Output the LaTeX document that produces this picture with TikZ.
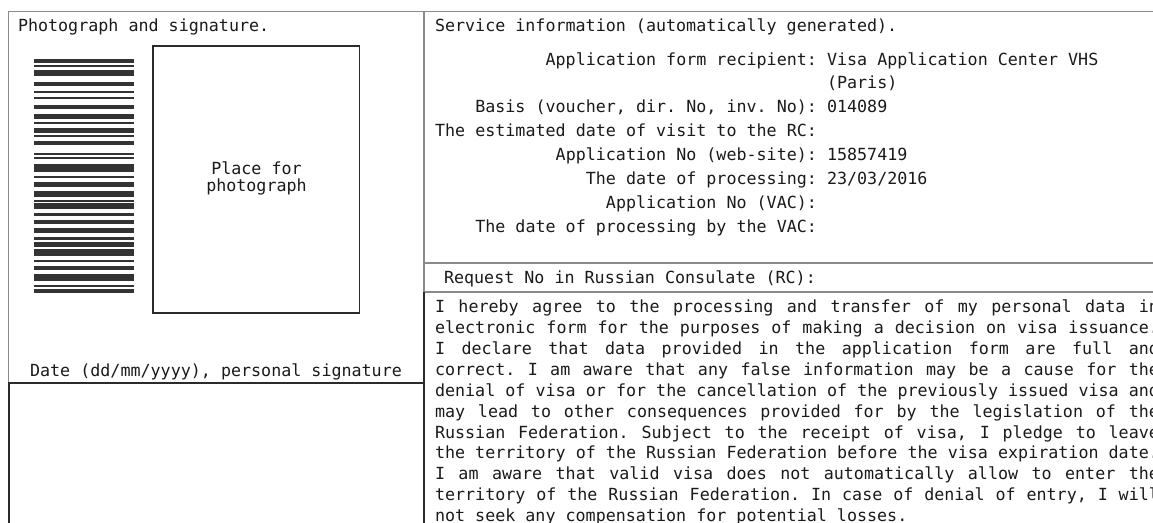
\documentclass[tikz,border=0pt]{standalone}
\usepackage{fontspec}
\newfontfamily\formfont{DejaVu Sans Mono}
\definecolor{ink}{HTML}{1A1A1A}
\definecolor{gridgray}{HTML}{8A8A8A}
\definecolor{darkline}{HTML}{2B2B2B}
\definecolor{barfill}{HTML}{333333}
\newcommand{\formsize}{\formfont\fontsize{12.52}{15.64}\selectfont}
\begin{document}
\frenchspacing
\begin{tikzpicture}[x=0.75pt,y=-0.75pt,
  txt/.style={inner sep=0pt, outer sep=0pt, font=\formsize, text=ink},
  lbl/.style={txt, anchor=base east},
  val/.style={txt, anchor=base west},
  gridline/.style={draw=gridgray, line width=0.9pt},
  heavyline/.style={draw=darkline, line width=1.5pt},
  photobox/.style={draw=darkline, line width=1.2pt},
  bar/.style={fill=barfill},
]
\useasboundingbox (0,0) rectangle (1153,523);
\fill[white] (0,0) rectangle (1153,523);
\begin{scope}
\clip (0,0) rectangle (1153,523);
% grid
\draw[gridline] (8.5,11.5) -- (1170,11.5);
\draw[gridline] (8.5,11.5) -- (8.5,383.5);
\draw[gridline] (424,11.5) -- (424,292);
\draw[gridline] (424,263) -- (1170,263);
\draw[gridline] (424,292) -- (1170,292);
\draw[heavyline] (8.5,540) -- (8.5,383.5) -- (424,383.5);
\draw[heavyline] (424,292) -- (424,540);
% photo box
\draw[photobox] (153,46) rectangle (359.5,313);
\node[txt, anchor=base] (place1) at (256.5,175) {Place for};
\node[txt, anchor=base] (place2) at (256.5,192) {photograph};
% barcode
\foreach \a/\b in {59.3/62.7, 65.3/66.7, 70/75.7, 82.3/85.7, 90.7/92.7, 96.7/98.7,
  105.3/109.3, 114/119.3, 122/123.7, 128.3/132.7, 135/136.7, 140.7/144.7,
  153.3/155, 157.3/159.3, 164.3/172, 175.7/177.7, 182/186.7, 191/197.3,
  200/202, 203.3/209.3, 213.3/215.7, 220/223.7, 228.3/232.7, 236.7/240,
  242.3/247.3, 249.3/256, 260/262, 266/270, 274.3/280.7, 285/287.3, 288.7/293.3}
  \fill[bar] (34,\a) rectangle (134,\b);
% headers
\node[val] (phsig) at (18,32) {Photograph and signature.};
\node[val] (svc) at (435,32) {Service information (automatically generated).};
% service rows
\node[lbl] (l1) at (817,66) {Application form recipient:};
\node[val] (v1) at (827,66) {Visa Application Center VHS};
\node[val] (v1b) at (827,89) {(Paris)};
\node[lbl] (l2) at (817,113) {Basis (voucher, dir. No, inv. No):};
\node[val] (v2) at (827,113) {014089};
\node[lbl] (l3) at (817,137) {The estimated date of visit to the RC:};
\node[lbl] (l4) at (817,161) {Application No (web-site):};
\node[val] (v4) at (827,161) {15857419};
\node[lbl] (l5) at (817,185) {The date of processing:};
\node[val] (v5) at (827,185) {23/03/2016};
\node[lbl] (l6) at (817,209) {Application No (VAC):};
\node[lbl] (l7) at (817,233) {The date of processing by the VAC:};
% request
\node[val] (req) at (444,284) {Request No in Russian Consulate (RC):};
% date label
\node[txt, anchor=base] (datelbl) at (216,377) {Date (dd/mm/yyyy), personal signature};
% body
\node[val] (body) at (435,313) {\parbox[t]{543pt}{\formsize\frenchspacing
  \spaceskip=\fontdimen2\font plus 1fil\relax
  \xspaceskip=\spaceskip
  \parfillskip=0pt plus 1fill\relax
  \parindent=0pt\hyphenpenalty=10000\relax
  \noindent I hereby agree to the processing and transfer of my personal data in\linebreak
  electronic form for the purposes of making a decision on visa issuance.\linebreak
  I declare that data provided in the application form are full and\linebreak
  correct. I am aware that any false information may be a cause for the\linebreak
  denial of visa or for the cancellation of the previously issued visa and\linebreak
  may lead to other consequences provided for by the legislation of the\linebreak
  Russian Federation. Subject to the receipt of visa, I pledge to leave\linebreak
  the territory of the Russian Federation before the visa expiration date.\linebreak
  I am aware that valid visa does not automatically allow to enter the\linebreak
  territory of the Russian Federation. In case of denial of entry, I will\linebreak
  not seek any compensation for potential losses.\par}};
\end{scope}
\end{tikzpicture}
\end{document}
